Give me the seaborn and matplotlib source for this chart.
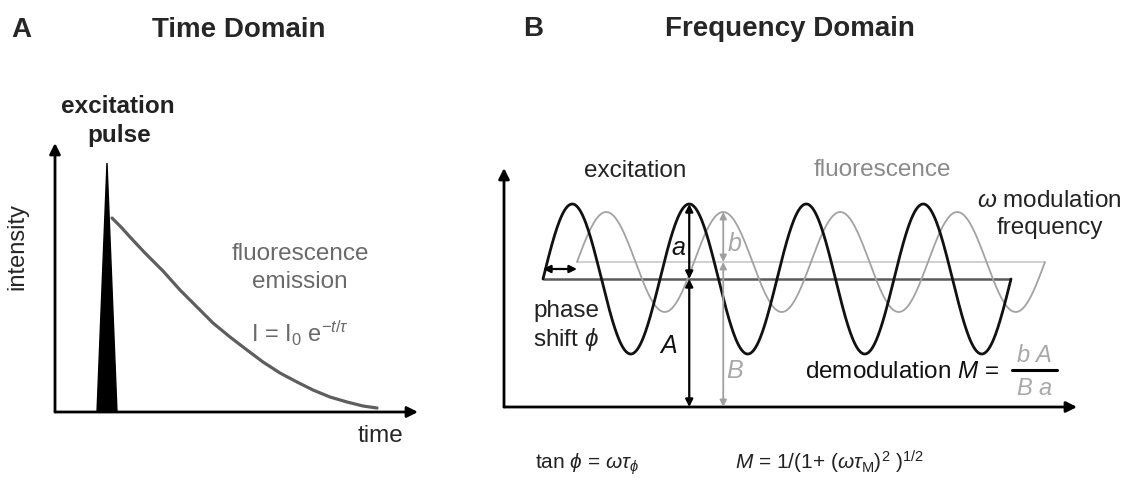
import numpy as np
import matplotlib
matplotlib.use("Agg")
import matplotlib.pyplot as plt
import seaborn as sns

# ---- panel A: time-domain decay (arbitrary units: time, intensity) ----
pulse_time = [42, 52, 62]
pulse_intensity = [0, 249, 0]
decay_time = [57, 66, 75, 90, 108, 125, 142, 158, 175, 192, 208, 225, 242, 258, 275, 292, 308, 322]
decay_intensity = [194, 185, 175, 159, 141, 122, 105, 89, 75, 62, 50, 39, 30, 22, 15, 10, 6, 4]

# ---- panel B: frequency-domain sinusoids (arbitrary units) ----
period = 117
n_periods = 4
exc_start, exc_offset, exc_amp = 39, 128, 75
flu_start, flu_offset, flu_amp = 73, 145, 50

sns.set_theme(style="white")
plt.rcParams["font.family"] = ["Liberation Sans", "DejaVu Sans"]
plt.rcParams["mathtext.fontset"] = "custom"
plt.rcParams["mathtext.rm"] = "Liberation Sans"
plt.rcParams["mathtext.it"] = "Liberation Sans:italic"
plt.rcParams["mathtext.bf"] = "Liberation Sans:bold"

W, H = 1127, 482
fig = plt.figure(figsize=(W / 100, H / 100), dpi=100)
fig.patch.set_facecolor("white")


def px(x, y):
    return x / W, 1 - y / H


def label(x, y, s, **kw):
    kw.setdefault("ha", "center")
    kw.setdefault("va", "baseline")
    fig.text(*px(x, y), s, **kw)


def arrow(ax, xy_from, xy_to, style, color, lw=1.6, scale=14):
    ax.annotate("", xy=xy_to, xytext=xy_from,
                arrowprops=dict(arrowstyle=style, color=color, lw=lw,
                                mutation_scale=scale, shrinkA=0, shrinkB=0),
                annotation_clip=False)


# ================= panel A =================
axA = fig.add_axes([55 / W, (H - 412) / H, 363 / W, 269 / H])
axA.set_xlim(0, 363)
axA.set_ylim(0, 269)
axA.axis("off")

axA.fill(pulse_time, pulse_intensity, color="black", zorder=3)
sns.lineplot(x=decay_time, y=decay_intensity, ax=axA, color="#5e5e5e", lw=2.3,
             estimator=None, zorder=2)
arrow(axA, (0, 0), (363, 0), "-|>", "black", lw=2.0, scale=16)
arrow(axA, (0, 0), (0, 269), "-|>", "black", lw=2.0, scale=16)

label(21, 37, "A", fontsize=20, fontweight="bold")
label(239, 37, "Time Domain", fontsize=20, fontweight="bold")
label(118, 113, "excitation", fontsize=17.5, fontweight="bold", color="#222222")
label(119, 142, "pulse", fontsize=17.5, fontweight="bold", color="#222222")
fig.text(*px(17, 246), "intensity", fontsize=17, rotation=90, ha="center", va="center")
label(380, 442, "time", fontsize=17.5)
label(300, 260, "fluorescence", fontsize=17.5, color="#6a6a6a")
label(300, 288, "emission", fontsize=17.5, color="#6a6a6a")
label(300, 342, r"I = I$_0$ e$^{-t/\tau}$", fontsize=17, color="#6a6a6a")

# ================= panel B =================
axB = fig.add_axes([504 / W, (H - 407) / H, 573 / W, 239 / H])
axB.set_xlim(0, 573)
axB.set_ylim(0, 239)
axB.axis("off")

t_exc = np.linspace(exc_start, exc_start + n_periods * period, 600)
t_flu = np.linspace(flu_start, flu_start + n_periods * period, 600)
exc = exc_offset + exc_amp * np.sin(2 * np.pi * (t_exc - exc_start) / period)
flu = flu_offset + flu_amp * np.sin(2 * np.pi * (t_flu - flu_start) / period)

axB.hlines(flu_offset, t_flu[0], t_flu[-1], color="#cdcdcd", lw=1.3, zorder=1)
axB.hlines(exc_offset, t_exc[0], t_exc[-1], color="#5a5a5a", lw=1.8, zorder=1)
sns.lineplot(x=t_flu, y=flu, ax=axB, color="#a2a2a2", lw=1.3, estimator=None, zorder=2)
sns.lineplot(x=t_exc, y=exc, ax=axB, color="#111111", lw=2.0, estimator=None, zorder=3)

arrow(axB, (0, 0), (573, 0), "-|>", "black", lw=2.0, scale=16)
arrow(axB, (0, 0), (0, 239), "-|>", "black", lw=2.0, scale=16)

# phase shift between the two waves
arrow(axB, (exc_start, exc_offset + 10), (flu_start, exc_offset + 10), "<|-|>", "black", lw=1.6, scale=11)

# amplitude (a, b) and mean (A, B) markers at the second maxima
x_a = exc_start + 1.25 * period
x_b = flu_start + 1.25 * period
arrow(axB, (x_a, exc_offset + exc_amp), (x_a, exc_offset), "<|-|>", "black", lw=1.6, scale=11)
arrow(axB, (x_a, exc_offset), (x_a, 0), "<|-|>", "black", lw=1.6, scale=11)
arrow(axB, (x_b, flu_offset + flu_amp), (x_b, flu_offset), "<|-|>", "#a0a0a0", lw=1.3, scale=10)
arrow(axB, (x_b, flu_offset), (x_b, 0), "<|-|>", "#a0a0a0", lw=1.3, scale=10)

label(533, 36, "B", fontsize=20, fontweight="bold")
label(790, 36, "Frequency Domain", fontsize=20, fontweight="bold")
label(635, 177, "excitation", fontsize=17.5, color="#222222")
label(882, 176, "fluorescence", fontsize=17.5, color="#8a8a8a")
label(1049, 207, r"$\omega$ modulation", fontsize=17.5, color="#222222")
label(1050, 234, "frequency", fontsize=17.5, color="#222222")
label(679, 255, r"$a$", fontsize=18, color="#111111")
label(735, 251, r"$b$", fontsize=18, color="#a8a8a8")
label(668, 353, r"$A$", fontsize=18, color="#111111")
label(735, 378, r"$B$", fontsize=18, color="#a8a8a8")
label(533, 317, "phase", fontsize=17.5, ha="left", color="#222222")
label(533, 346, r"shift $\phi$", fontsize=17.5, ha="left", color="#222222")
label(805, 378, r"demodulation $M$ =", fontsize=17.5, ha="left", color="#111111")
label(1034, 362, r"$b\ A$", fontsize=17, color="#a8a8a8")
label(1034, 395, r"$B\ a$", fontsize=17, color="#a8a8a8")
fig.add_artist(plt.Line2D([1012 / W, 1057 / W], [1 - 370 / H, 1 - 370 / H],
                          color="black", lw=2.2))
label(535, 469, r"tan $\phi$ = $\omega\tau_\phi$", fontsize=15, ha="left", color="#222222")
label(735, 469, r"$M$ = 1/(1+ ($\omega\tau_{\rm M}$)$^2$ )$^{1/2}$", fontsize=15, ha="left",
      color="#222222")

fig.savefig("out.png", dpi=100, facecolor="white")
